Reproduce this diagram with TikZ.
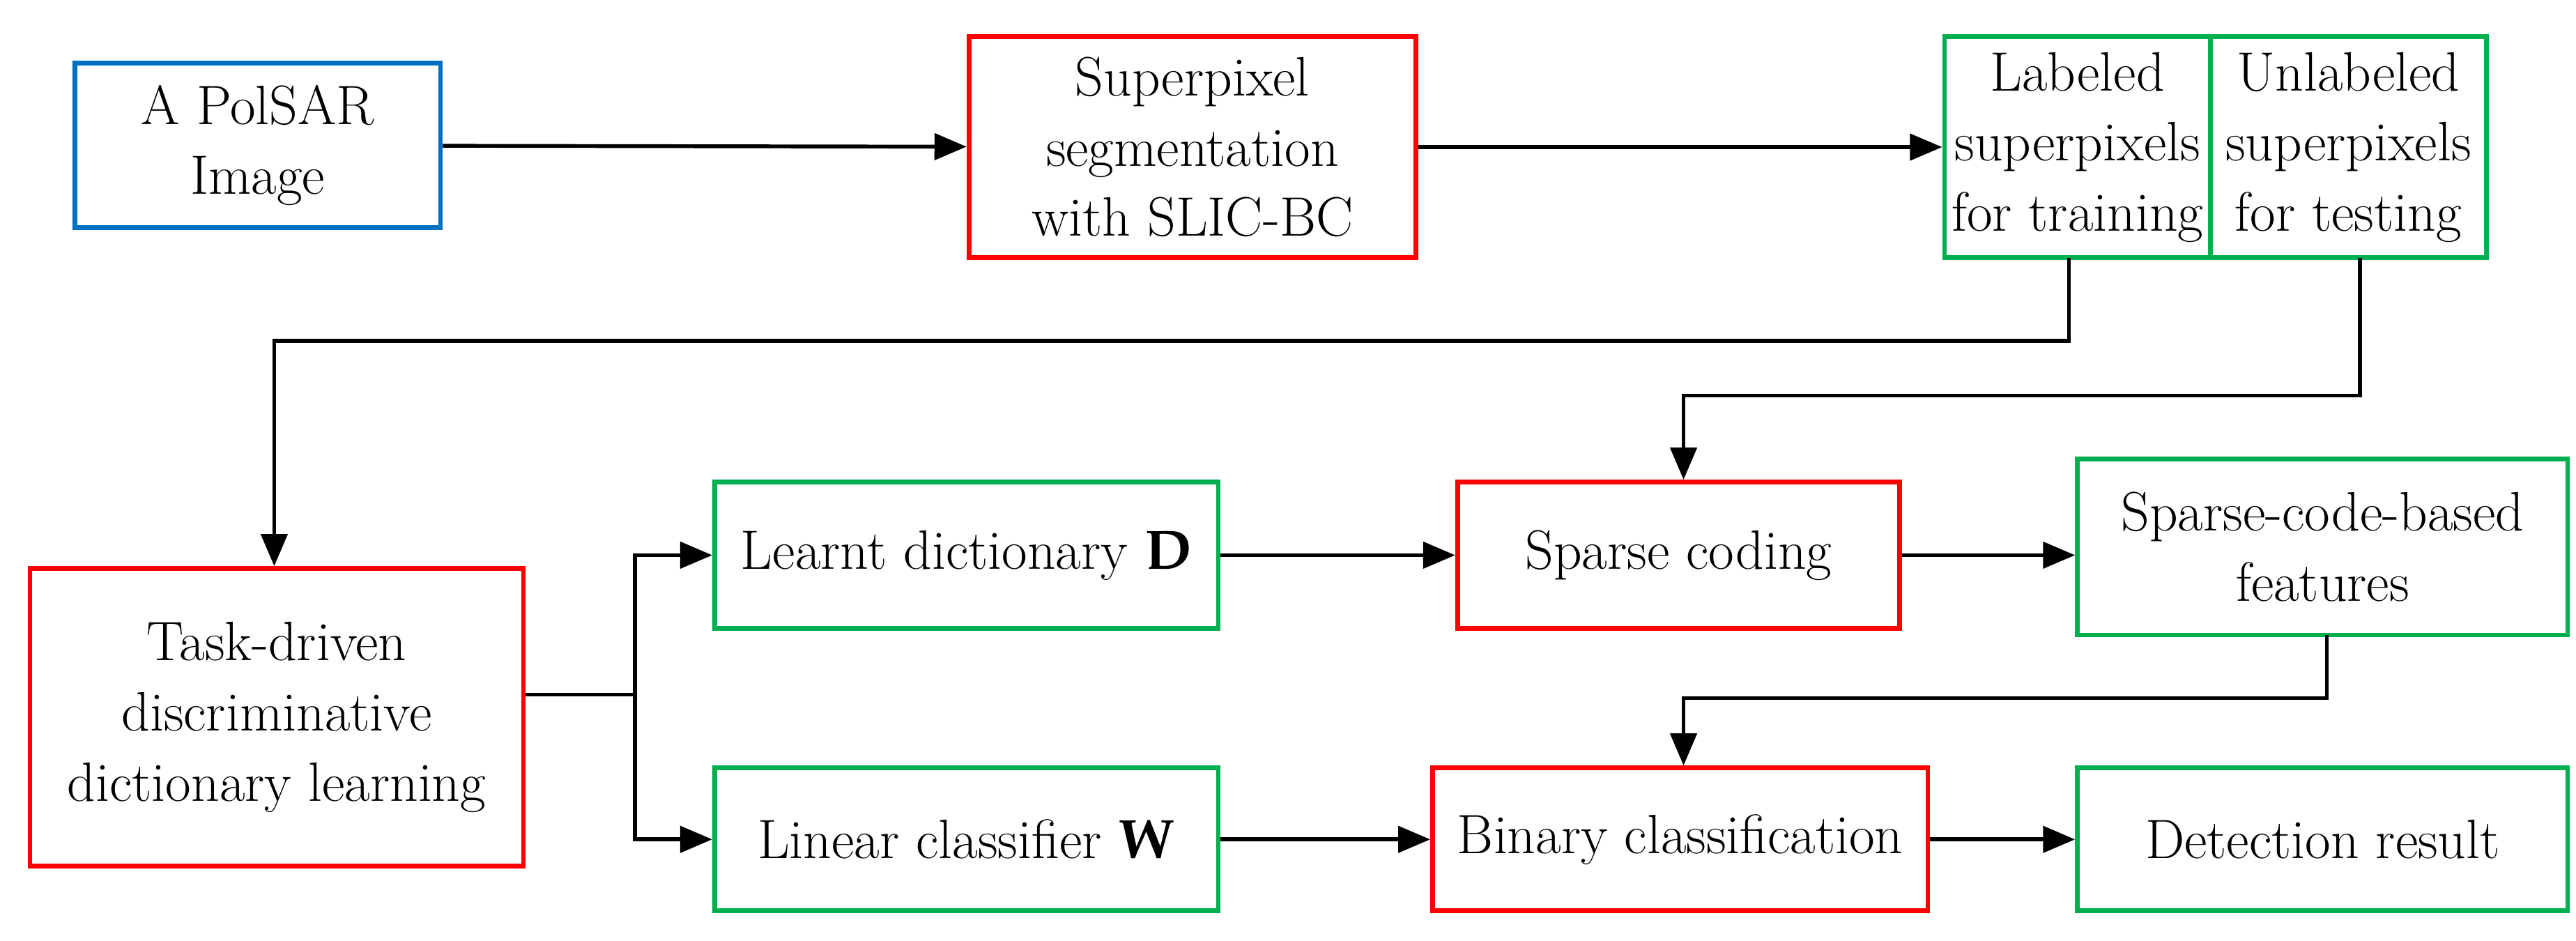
\documentclass[tikz,border=0pt]{standalone}
\usepackage{mathpazo}
\usetikzlibrary{arrows.meta}
\begin{document}
\begin{tikzpicture}[x=0.02cm,y=-0.02cm,
  box/.style={draw=#1,line width=1.6pt,align=center,inner sep=0pt,font=\fontsize{19}{24}\selectfont},
  arr/.style={line width=1.3pt,-{Triangle[length=11pt,width=9pt]}},
  ln/.style={line width=1.3pt}]
\useasboundingbox (0,0) rectangle (1550,566);
\definecolor{cb}{RGB}{0,112,192}
\definecolor{cr}{RGB}{255,0,0}
\definecolor{cg}{RGB}{0,176,80}
\node[box=cb,minimum width=220*0.02cm,minimum height=99*0.02cm] (a) at (155,87.5) {A PolSAR\\Image};
\node[box=cr,minimum width=269*0.02cm,minimum height=133*0.02cm] (s) at (717.5,88.5) {Superpixel\\segmentation\\with SLIC-BC};
\node[box=cg,minimum width=160*0.02cm,minimum height=133*0.02cm] (l) at (1250,88.5) {Labeled\\superpixels\\for training};
\node[box=cg,minimum width=166*0.02cm,minimum height=133*0.02cm] (u) at (1413,88.5) {Unlabeled\\superpixels\\for testing};
\node[box=cr,minimum width=297*0.02cm,minimum height=179*0.02cm] (t) at (166.5,431.5) {Task-driven\\discriminative\\dictionary learning};
\node[box=cg,minimum width=303*0.02cm,minimum height=88*0.02cm] (d) at (581.5,334) {Learnt dictionary $\mathbf{D}$};
\node[box=cr,minimum width=266*0.02cm,minimum height=88*0.02cm] (sc) at (1010,334) {Sparse coding};
\node[box=cg,minimum width=295*0.02cm,minimum height=106*0.02cm] (f) at (1397.5,329) {Sparse-code-based\\features};
\node[box=cg,minimum width=303*0.02cm,minimum height=86*0.02cm] (w) at (581.5,505) {Linear classifier $\mathbf{W}$};
\node[box=cr,minimum width=298*0.02cm,minimum height=86*0.02cm] (b) at (1011,505) {Binary classification};
\node[box=cg,minimum width=295*0.02cm,minimum height=86*0.02cm] (r) at (1397.5,505) {Detection result};
\coordinate (j) at (382,418);
\draw[arr] (a) -- (s);
\draw[arr] (s) -- (l);
\draw[arr] (1245,155) -- (1245,205) -- (165,205) -- (t.north -| 165,0);
\draw[arr] (1420,155) -- (1420,238) -- (1013,238) -- (sc.north -| 1013,0);
\draw[ln] (t.east |- j) -- (j);
\draw[arr] (j) |- (d.west);
\draw[arr] (j) |- (w.west);
\draw[arr] (d) -- (sc);
\draw[arr] (sc) -- (f.west |- sc);
\draw[arr] (1400,382) -- (1400,420) -- (1013,420) -- (b.north -| 1013,0);
\draw[arr] (w) -- (b);
\draw[arr] (b) -- (r);
\end{tikzpicture}
\end{document}
